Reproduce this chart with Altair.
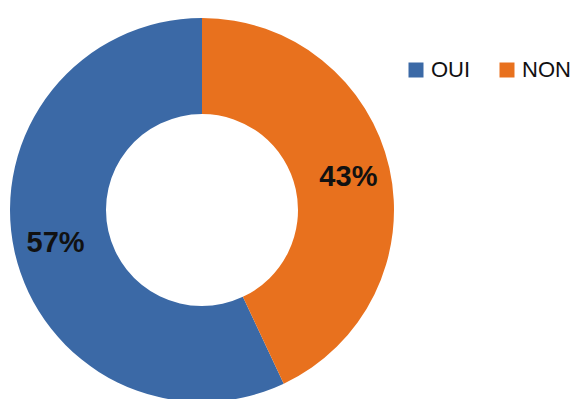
import altair as alt
import pandas as pd

categories = ["OUI", "NON"]
values = [57, 43]
labels = ["57%", "43%"]
stack_order = [1, 0]  # NON starts at 12 o'clock, clockwise
colors = ["#3b69a6", "#e8711e"]

df = pd.DataFrame({
    "reponse": categories,
    "valeur": values,
    "label": labels,
    "ordre": stack_order,
})

CX, CY = 194, 202

base = alt.Chart(df).encode(
    theta=alt.Theta("valeur:Q", stack=True),
    order=alt.Order("ordre:Q"),
)

arcs = base.mark_arc(outerRadius=192, innerRadius=96, stroke=None).encode(
    x=alt.value(CX),
    y=alt.value(CY),
    color=alt.Color(
        "reponse:N",
        scale=alt.Scale(domain=categories, range=colors),
        legend=alt.Legend(
            title=None,
            orient="none",
            legendX=397,
            legendY=51,
            padding=0,
            direction="horizontal",
            symbolType="square",
            symbolSize=225,
            symbolStrokeWidth=0,
            labelFont="Liberation Sans",
            labelFontSize=22,
            labelColor="#111111",
            labelOffset=4,
            columnPadding=25,
            labelLimit=200,
        ),
    ),
)

texts = base.mark_text(
    radius=150,
    font="Liberation Sans",
    fontSize=29,
    fontWeight="bold",
    color="#111111",
    align="center",
    baseline="middle",
).encode(
    x=alt.value(CX),
    y=alt.value(CY),
    text="label:N",
)

chart = (
    alt.layer(arcs, texts)
    .properties(width=566, height=391, autosize=alt.AutoSizeParams(type="none"), padding=0)
    .configure_view(stroke=None)
)

chart.save("out.html", embed_options={"renderer": "svg", "actions": False})
